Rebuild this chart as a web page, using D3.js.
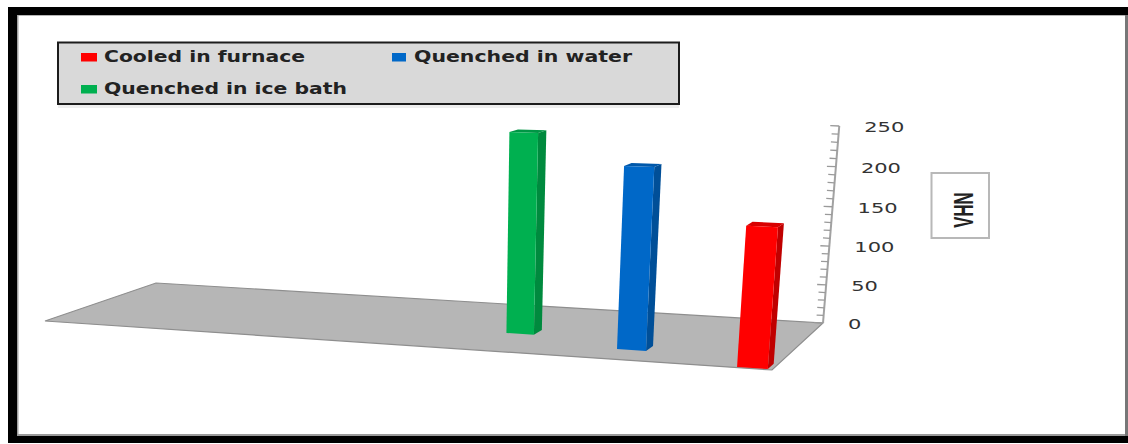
<!DOCTYPE html>
<html>
<head>
<meta charset="utf-8">
<script src="https://cdn.jsdelivr.net/npm/d3@7"></script>
<style>
  html, body { margin: 0; padding: 0; background: #fff; }
  svg { display: block; }
</style>
</head>
<body>
<svg id="chart" width="1128" height="444"></svg>
<script>
// Hardness of the samples after each cooling route
const seriesNames = ["Cooled in furnace", "Quenched in water", "Quenched in ice bath"];
const seriesValues = [166, 221, 250];
const seriesColors = ["#ff0000", "#0068c8", "#00b050"];
const seriesSides = ["#c00000", "#004f98", "#008a3e"];
const seriesTops = ["#d80000", "#0058aa", "#009645"];
const axisTitle = "VHN";
const valueDomain = [0, 250];
const majorStep = 50;
const minorStep = 10;

// Slots of the three bars on the floor plane (0..1 along it, 0..1 into depth)
const barAlong = [0.956, 0.787, 0.62];
const barDepth = [0.012, 0.198, 0.3715];
const barSizeAlong = 0.038;
const barSizeDepth = 0.105;

const svg = d3.select("#chart");
const width = 1128, height = 444;

// Perspective of the floor: corners in screen space
const floor = [[45, 321], [772, 370], [823, 323], [156, 283]];
const vanish = [437, 5000];

const [p0, p1, p2, p3] = floor;
const dx1 = p1[0] - p2[0], dx2 = p3[0] - p2[0], sx = p0[0] - p1[0] + p2[0] - p3[0];
const dy1 = p1[1] - p2[1], dy2 = p3[1] - p2[1], sy = p0[1] - p1[1] + p2[1] - p3[1];
const den = dx1 * dy2 - dx2 * dy1;
const g = (sx * dy2 - dx2 * sy) / den;
const h = (dx1 * sy - sx * dy1) / den;
const a = p1[0] - p0[0] + g * p1[0], b = p3[0] - p0[0] + h * p3[0];
const d = p1[1] - p0[1] + g * p1[1], e = p3[1] - p0[1] + h * p3[1];

// Value to homogeneous lift along the vertical vanishing direction
const cornerW = g + h + 1;
const lift = d3.scaleLinear()
  .domain(valueDomain)
  .range([0, cornerW * 197 / (323 - vanish[1] - 197)]);

function project(u, v, value) {
  const k = lift(value);
  const w = g * u + h * v + 1 + k;
  return [
    (a * u + b * v + p0[0] + k * vanish[0]) / w,
    (d * u + e * v + p0[1] + k * vanish[1]) / w
  ];
}

const polyLine = d3.line();

// Outer frame: heavy on three sides, thin grey on the right
svg.append("rect").attr("width", width).attr("height", height).attr("fill", "#fff");
svg.append("rect").attr("x", 8).attr("y", 7).attr("width", 1120).attr("height", 8).attr("fill", "#000");
svg.append("rect").attr("x", 8).attr("y", 7).attr("width", 9).attr("height", 436).attr("fill", "#000");
svg.append("rect").attr("x", 8).attr("y", 436).attr("width", 1120).attr("height", 7).attr("fill", "#000");
svg.append("rect").attr("x", 1125).attr("y", 15).attr("width", 3).attr("height", 421).attr("fill", "#777");
svg.append("rect").attr("x", 17).attr("y", 15).attr("width", 1108).attr("height", 1).attr("fill", "#b5b5b5");
svg.append("rect").attr("x", 17).attr("y", 15).attr("width", 1.5).attr("height", 420).attr("fill", "#a0a0a0");
svg.append("rect").attr("x", 17).attr("y", 434).attr("width", 1108).attr("height", 2).attr("fill", "#9a9a9a");

// Floor
svg.append("path")
  .attr("d", polyLine(floor) + "Z")
  .attr("fill", "#b6b6b6")
  .attr("stroke", "#8e8e8e")
  .attr("stroke-width", 1.2);

// Value axis on the back corner, with ticks pointing into the chart
const axisG = svg.append("g");
const axisScaleTicks = d3.range(valueDomain[0], valueDomain[1] + 1, minorStep);
axisG.append("path")
  .attr("d", polyLine([project(1, 1, valueDomain[0]), project(1, 1, valueDomain[1])]))
  .attr("stroke", "#a2a2a2").attr("stroke-width", 2).attr("fill", "none");
axisG.selectAll("line.tick").data(axisScaleTicks).join("line")
  .attr("class", "tick")
  .attr("x1", t => project(1, 1, t)[0])
  .attr("y1", t => project(1, 1, t)[1])
  .attr("x2", t => project(1, 1, t)[0] - (t % majorStep === 0 ? 9 : 7))
  .attr("y2", t => project(1, 1, t)[1] - 0.4)
  .attr("stroke", "#9a9a9a").attr("stroke-width", 1.3);

const majorTicks = d3.range(valueDomain[0], valueDomain[1] + 1, majorStep);
axisG.selectAll("text").data(majorTicks).join("text")
  .attr("transform", t => {
    const q = project(1, 1, t);
    return `translate(${q[0] + 25},${q[1] + 6}) scale(1.5,1)`;
  })
  .attr("font-family", "'DejaVu Sans'")
  .attr("font-size", 14)
  .attr("fill", "#333")
  .text(t => t);

// Bars, far ones first
const order = d3.range(seriesValues.length).sort((i, j) => barDepth[j] - barDepth[i]);
order.forEach(i => {
  const u0 = barAlong[i], u1 = u0 + barSizeAlong;
  const v0 = barDepth[i], v1 = v0 + barSizeDepth;
  const val = seriesValues[i];
  const g3 = svg.append("g").attr("class", "bar");
  g3.append("path")
    .attr("d", polyLine([project(u1, v0, 0), project(u1, v1, 0), project(u1, v1, val), project(u1, v0, val)]) + "Z")
    .attr("fill", seriesSides[i]);
  g3.append("path")
    .attr("d", polyLine([project(u0, v0, val), project(u1, v0, val), project(u1, v1, val), project(u0, v1, val)]) + "Z")
    .attr("fill", seriesTops[i]);
  g3.append("path")
    .attr("d", polyLine([project(u0, v0, 0), project(u1, v0, 0), project(u1, v0, val), project(u0, v0, val)]) + "Z")
    .attr("fill", seriesColors[i]);
});

// Axis title in its own box
svg.append("rect")
  .attr("x", 931.5).attr("y", 173).attr("width", 57.5).attr("height", 65)
  .attr("fill", "#fff").attr("stroke", "#b8b8b8").attr("stroke-width", 2);
svg.append("text")
  .attr("transform", "translate(973,210) rotate(-90) scale(0.6,1)")
  .attr("text-anchor", "middle")
  .attr("font-family", "'Liberation Sans'")
  .attr("font-weight", "bold")
  .attr("font-size", 28)
  .attr("fill", "#222")
  .text(axisTitle);

// Legend
const legendSlots = [
  { x: 81, sw: 16, tx: 104, tw: 201, y: 62 },
  { x: 392, sw: 14, tx: 414, tw: 218, y: 62 },
  { x: 81, sw: 16, tx: 104, tw: 243, y: 94 }
];
svg.append("rect").attr("x", 58).attr("y", 48).attr("width", 621).attr("height", 60)
  .attr("fill", "#eeeeee");
svg.append("rect")
  .attr("x", 58).attr("y", 42.5).attr("width", 621).attr("height", 61.5)
  .attr("fill", "#d9d9d9").attr("stroke", "#1c1c1c").attr("stroke-width", 2);
const legendItems = svg.selectAll("g.legend").data(seriesNames).join("g").attr("class", "legend");
legendItems.append("rect")
  .attr("x", (_, i) => legendSlots[i].x)
  .attr("y", (_, i) => legendSlots[i].y - 9)
  .attr("width", (_, i) => legendSlots[i].sw)
  .attr("height", 8.5)
  .attr("fill", (_, i) => seriesColors[i]);
legendItems.append("text")
  .attr("x", (_, i) => legendSlots[i].tx)
  .attr("y", (_, i) => legendSlots[i].y)
  .attr("textLength", (_, i) => legendSlots[i].tw)
  .attr("lengthAdjust", "spacingAndGlyphs")
  .attr("font-family", "'DejaVu Sans'")
  .attr("font-weight", "bold")
  .attr("font-size", 15)
  .attr("fill", "#222")
  .text(n => n);
</script>
</body>
</html>
